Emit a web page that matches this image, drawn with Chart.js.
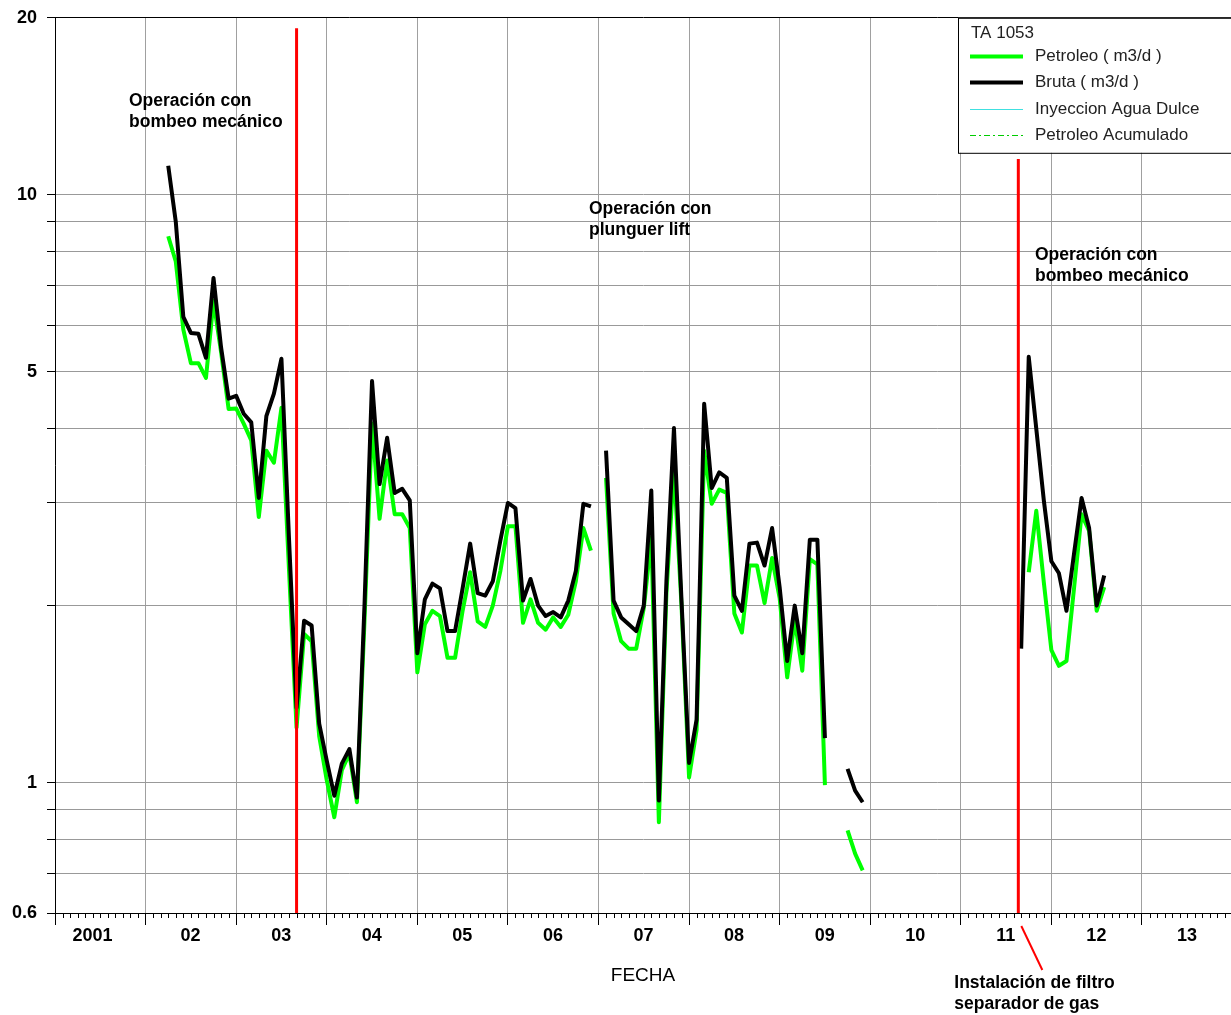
<!DOCTYPE html>
<html>
<head>
<meta charset="utf-8">
<title>TA 1053</title>
<script src="https://cdn.jsdelivr.net/npm/chart.js@4.4.1/dist/chart.umd.min.js"></script>
<style>
  html, body { margin: 0; padding: 0; background: #fff; overflow: hidden; }
  canvas { display: block; margin-top: -3px; }
</style>
</head>
<body>
<canvas id="produccionChart" width="1231" height="1018"></canvas>
<script>
// Pozo TA 1053 - produccion mensual desde abril 2002
const primerMes = 2002 + 3 / 12;

// Bruta ( m3/d ), un valor por mes, null = sin dato
const bruta = [
    11.2, 9.0, 6.2, 5.82, 5.8, 5.28, 7.22, 5.5, 4.5, 4.55, 4.24, 4.1,
    3.05, 4.2, 4.59, 5.26, 2.6, 1.34, 1.885, 1.85, 1.26, 1.09, 0.95, 1.077,
    1.14, 0.943, 2.0, 4.82, 3.22, 3.86, 3.11, 3.16, 3.02, 1.66, 2.05, 2.18,
    2.14, 1.81, 1.81, 2.14, 2.55, 2.1, 2.08, 2.2, 2.58, 2.99, 2.93, 2.04,
    2.22, 2.0, 1.92, 1.95, 1.91, 2.04, 2.29, 2.98, 2.95, null, 3.67, 2.04,
    1.91, 1.86, 1.81, 2.0, 3.14, 0.932, 2.2, 4.01, 2.04, 1.08, 1.28, 4.41,
    3.17, 3.37, 3.3, 2.08, 1.96, 2.55, 2.56, 2.34, 2.71, 2.15, 1.61, 2.0,
    1.66, 2.59, 2.59, 1.19, null, null, 1.055, 0.969, 0.926, null, null, null,
    null, null, null, null, null, null, null, null, null, null, null, null,
    null, null, null, null, null, 1.69, 5.3, 4.0, 3.02, 2.38, 2.27, 1.96,
    2.45, 3.05, 2.71, 2.0, 2.25
];

// Petroleo ( m3/d )
const petroleo = [
    8.5, 7.7, 5.9, 5.17, 5.17, 4.88, 6.6, 5.4, 4.32, 4.33, 4.08, 3.82,
    2.83, 3.67, 3.5, 4.34, 2.3, 1.24, 1.79, 1.74, 1.2, 1.01, 0.873, 1.05,
    1.12, 0.926, 1.88, 4.08, 2.81, 3.53, 2.86, 2.86, 2.71, 1.54, 1.86, 1.96,
    1.92, 1.63, 1.63, 1.96, 2.28, 1.88, 1.84, 2.0, 2.29, 2.73, 2.73, 1.87,
    2.05, 1.87, 1.82, 1.91, 1.84, 1.93, 2.2, 2.71, 2.48, null, 3.3, 1.94,
    1.74, 1.69, 1.69, 1.98, 2.61, 0.856, 2.1, 3.43, 2.0, 1.02, 1.23, 3.67,
    2.98, 3.15, 3.11, 1.94, 1.8, 2.34, 2.34, 2.02, 2.41, 2.06, 1.51, 1.89,
    1.55, 2.4, 2.35, 0.99, null, null, 0.829, 0.757, 0.709, null, null, null,
    null, null, null, null, null, null, null, null, null, null, null, null,
    null, null, null, null, null, null, 2.28, 2.9, 2.19, 1.68, 1.58, 1.61,
    2.14, 2.86, 2.68, 1.96, 2.15
];

// Cambios de sistema (fecha, altura de la linea roja)
const cambiosFecha = [2003.667, 2011.635];
const cambiosTope = [19.2, 11.5];

const anios = [2001, 2002, 2003, 2004, 2005, 2006, 2007, 2008, 2009, 2010, 2011, 2012, 2013];
const ticksY = [0.6, 0.7, 0.8, 0.9, 1, 2, 3, 4, 5, 6, 7, 8, 9, 10, 20];
const etiquetasY = [0.6, 1, 5, 10, 20];

const puntos = serie => serie.map((v, i) => ({ x: primerMes + i / 12, y: v }));
const fuente = '"Liberation Sans", Arial, sans-serif';

const lineasRojas = cambiosFecha.map((f, i) => ({
    data: [{ x: f, y: cambiosTope[i] }, { x: f, y: 0.6 }],
    borderColor: '#ff0000',
    borderWidth: 3,
    pointRadius: 0,
    order: 0
}));

// Leyenda, notas y ticks mensuales
const extras = {
    id: 'extras',
    afterDraw(chart) {
        const { ctx, chartArea: area, scales: { x, y } } = chart;
        ctx.save();

        // ticks mensuales
        ctx.strokeStyle = '#000';
        ctx.lineWidth = 1;
        anios.forEach(a => {
            for (let m = 1; m < 12; m++) {
                const px = Math.round(x.getPixelForValue(a + m / 12)) + 0.5;
                if (px > area.right) continue;
                ctx.beginPath();
                ctx.moveTo(px, area.bottom);
                ctx.lineTo(px, area.bottom + 5);
                ctx.stroke();
            }
        });

        // notas
        ctx.fillStyle = '#000';
        ctx.textBaseline = 'middle';
        ctx.textAlign = 'left';
        ctx.font = 'bold 17.5px ' + fuente;
        const notas = [
            [2001.817, 14.4, ['Operación con', 'bombeo mecánico']],
            [2006.895, 9.46, ['Operación con', 'plunguer lift']],
            [2011.819, 7.9, ['Operación con', 'bombeo mecánico']]
        ];
        notas.forEach(([f, v, lineas]) => {
            const px = x.getPixelForValue(f);
            const py = y.getPixelForValue(v);
            lineas.forEach((t, k) => ctx.fillText(t, px, py + k * 21));
        });

        // flecha de la instalacion del filtro
        const xr = x.getPixelForValue(cambiosFecha[1]);
        ctx.strokeStyle = '#ff0000';
        ctx.lineWidth = 2;
        ctx.beginPath();
        ctx.moveTo(xr + 3, area.bottom + 13);
        ctx.lineTo(xr + 24, area.bottom + 57);
        ctx.stroke();
        ctx.fillText('Instalación de filtro', xr - 64, area.bottom + 70);
        ctx.fillText('separador de gas', xr - 64, area.bottom + 91);

        // titulo eje X
        ctx.font = '19px ' + fuente;
        ctx.textAlign = 'center';
        ctx.fillText('FECHA', (area.left + area.right) / 2, area.bottom + 63);

        // leyenda
        const lx = 958, ly = area.top;
        ctx.fillStyle = '#fff';
        ctx.fillRect(lx, ly, area.right - lx + 5, 135);
        ctx.strokeStyle = '#000';
        ctx.lineWidth = 1;
        ctx.strokeRect(lx + 0.5, ly + 0.5, area.right - lx + 5, 135);
        ctx.fillStyle = '#222';
        ctx.textAlign = 'left';
        ctx.font = '17px ' + fuente;
        ctx.fillText('TA 1053', lx + 13, ly + 16);
        chart.data.datasets.filter(d => d.label).forEach((d, i) => {
            const cy = Math.round(ly + 38 + i * 26.5) + 0.5;
            ctx.strokeStyle = d.borderColor;
            ctx.lineWidth = d.borderWidth;
            ctx.setLineDash(d.borderDash || []);
            ctx.beginPath();
            ctx.moveTo(lx + 12, cy);
            ctx.lineTo(lx + 65, cy);
            ctx.stroke();
            ctx.setLineDash([]);
            ctx.fillText(d.label, lx + 77, cy);
        });
        ctx.restore();
    }
};

new Chart(document.getElementById('produccionChart'), {
    type: 'line',
    data: {
        datasets: [
            {
                label: 'Petroleo ( m3/d )',
                data: puntos(petroleo),
                borderColor: '#00ff00',
                borderWidth: 4,
                pointRadius: 0,
                borderJoinStyle: 'round',
                order: 2
            },
            {
                label: 'Bruta ( m3/d )',
                data: puntos(bruta),
                borderColor: '#000000',
                borderWidth: 4,
                pointRadius: 0,
                borderJoinStyle: 'round',
                order: 1
            },
            {
                label: 'Inyeccion Agua Dulce',
                data: [],
                borderColor: '#40e0e0',
                borderWidth: 1,
                pointRadius: 0
            },
            {
                label: 'Petroleo Acumulado',
                data: [],
                borderColor: '#00cc00',
                borderWidth: 1,
                borderDash: [6, 3, 2, 3],
                pointRadius: 0
            },
            ...lineasRojas
        ]
    },
    options: {
        responsive: false,
        animation: false,
        spanGaps: false,
        layout: { padding: { top: 14, left: 0, right: 0, bottom: 0 } },
        plugins: {
            legend: { display: false },
            tooltip: { enabled: false }
        },
        scales: {
            x: {
                type: 'linear',
                min: 2001,
                max: 2013.983,
                afterBuildTicks: scale => { scale.ticks = anios.map(v => ({ value: v })); },
                afterFit: scale => { scale.height = 102; },
                border: { color: '#000', width: 1 },
                grid: { color: '#a0a0a0', tickLength: 12, tickColor: '#000' },
                ticks: {
                    autoSkip: false,
                    maxRotation: 0,
                    labelOffset: 45,
                    padding: 0,
                    color: '#000',
                    font: { family: fuente, size: 18, weight: 'bold' },
                    callback: v => v === 2001 ? '2001   ' : String(v % 100).padStart(2, '0')
                }
            },
            y: {
                type: 'logarithmic',
                min: 0.6,
                max: 20,
                afterBuildTicks: scale => { scale.ticks = ticksY.map(v => ({ value: v })); },
                afterFit: scale => { scale.width = 55; },
                border: { color: '#000', width: 1 },
                grid: {
                    color: c => (c.tick && c.tick.value === 20) ? '#000' : '#999',
                    tickLength: 8,
                    tickColor: '#000'
                },
                ticks: {
                    autoSkip: false,
                    padding: 10,
                    color: '#000',
                    font: { family: fuente, size: 18, weight: 'bold' },
                    callback: v => etiquetasY.includes(v) ? String(v) : ''
                }
            }
        }
    },
    plugins: [extras]
});
</script>
</body>
</html>
